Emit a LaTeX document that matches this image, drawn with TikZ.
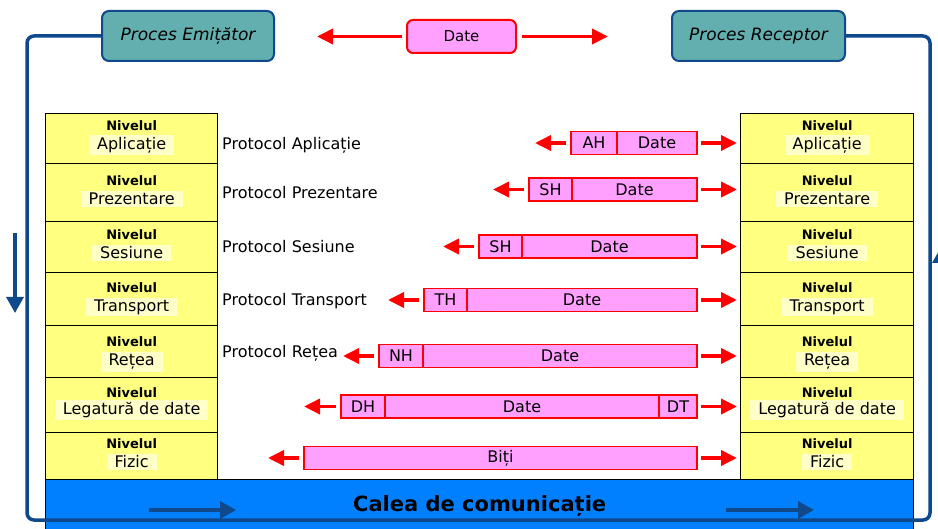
\documentclass[tikz,border=0pt]{standalone}
\usepackage{fontspec}
\setmainfont{DejaVu Sans}
\usetikzlibrary{arrows.meta,positioning}
\definecolor{procteal}{RGB}{99,175,175}
\definecolor{loopblue}{RGB}{16,72,140}
\definecolor{pktpink}{RGB}{255,160,255}
\definecolor{layeryellow}{RGB}{255,255,128}
\definecolor{hlyellow}{RGB}{255,255,200}
\definecolor{barblue}{RGB}{0,128,255}
\begin{document}
\begin{tikzpicture}[x=1pt,y=-1pt,
  proc/.style={draw=loopblue,line width=2pt,fill=procteal,rounded corners=7pt,
    minimum width=172pt,minimum height=50pt,font=\fontsize{17}{20}\selectfont\itshape},
  datebox/.style={draw=red,line width=2pt,fill=pktpink,rounded corners=6pt,
    minimum width=109pt,minimum height=33pt,font=\fontsize{15}{18}\selectfont},
  layer/.style={draw=black,line width=1.3pt,fill=layeryellow,minimum width=172pt,inner sep=0pt},
  nivtxt/.style={font=\fontsize{13}{15}\selectfont\bfseries,inner sep=1pt},
  hl/.style={fill=hlyellow,inner xsep=8pt,inner ysep=2pt,font=\fontsize{16}{18}\selectfont},
  prot/.style={anchor=west,inner sep=0pt,font=\fontsize{16}{18}\selectfont},
  cell/.style={draw=red,line width=1.6pt,fill=pktpink,minimum height=23pt,inner sep=0pt,
    outer sep=0pt,anchor=west,font=\fontsize{16}{18}\selectfont},
  redarr/.style={red,line width=3.6pt,-{Triangle[length=16pt,width=15pt]}},
  bluearr/.style={loopblue,line width=3.2pt,-{Triangle[length=16pt,width=17pt]}},
  loopline/.style={loopblue,line width=3.5pt,rounded corners=7pt}]
\clip (0,0) rectangle (938,529);

% procese si date
\node[proc] (pe) at (188,36) {Proces Emițător};
\node[proc,minimum width=173pt] (pr) at (758.5,36) {Proces Receptor};
\node[datebox] (dt) at (461.5,36.5) {Date};
\coordinate (dl) at (317,36.5);
\coordinate (dr) at (608,36.5);
\draw[redarr,shorten <=4pt] (dt.west) -- (dl);
\draw[redarr,shorten <=5pt] (dt.east) -- (dr);

% stivele de niveluri
\foreach \i/\yt/\hh/\ya/\yb/\lbl in {1/113/50/13/32/Aplicație,2/163/58/18/36/Prezentare,
    3/221/51/14/32/Sesiune,4/272/53/16/35/Transport,5/325/52/17/37/Rețea,
    6/377/55/16/33/Legatură de date,7/432/47/12/30/Fizic}{
  \node[layer,minimum height=\hh pt,anchor=north west] (L\i) at (45,\yt) {};
  \node[nivtxt] (Ln\i) at ([yshift=-\ya pt]L\i.north) {Nivelul};
  \node[hl] (Lt\i) at ([yshift=-\yb pt]L\i.north) {\lbl};
  \node[layer,minimum height=\hh pt,anchor=north west,minimum width=173pt] (R\i) at (740,\yt) {};
  \node[nivtxt] (Rn\i) at ([yshift=-\ya pt]R\i.north) {Nivelul};
  \node[hl] (Rt\i) at ([yshift=-\yb pt]R\i.north) {\lbl};
}

% calea de comunicatie
\node[draw=black,line width=1.3pt,fill=barblue,anchor=north west,minimum width=868pt,
  minimum height=52pt,font=\fontsize{21}{24}\selectfont\bfseries] (bar) at (45,479) {Calea de comunicație};
\coordinate (ba1) at (149,510);
\coordinate (ba2) at (236,510);
\coordinate (bb1) at (726,510);
\coordinate (bb2) at (814,510);
\draw[bluearr] (ba1) -- (ba2);
\draw[bluearr] (bb1) -- (bb2);

% bucla
\draw[loopline] (pe.west) -- (27,36) -- (27,520) -- (930,520) -- (930,36) -- (pr.east);
\coordinate (sd1) at (15,233);
\coordinate (sd2) at (15,313);
\draw[bluearr] (sd1) -- (sd2);
\coordinate (su1) at (941,330);
\coordinate (su2) at (941,247);
\draw[bluearr] (su1) -- (su2);

% protocoale
\node[prot] (p1) at (222,145) {Protocol Aplicație};
\node[prot] (p2) at (222,193) {Protocol Prezentare};
\node[prot] (p3) at (222,247) {Protocol Sesiune};
\node[prot] (p4) at (222,301) {Protocol Transport};
\node[prot] (p5) at (222,353) {Protocol Rețea};

% pachete
\foreach \i/\xa/\wa/\wb/\yy/\hd in {1/571/46/80/143/AH,2/529/43/125/189.5/SH,
    3/479/43/175/246.5/SH,4/424/43/230/300/TH,5/379/44/274/356/NH}{
  \node[cell,minimum width=\wa pt] (h\i) at (\xa,\yy) {\hd};
  \node[cell,minimum width=\wb pt] (d\i) at (h\i.east) {Date};
  \draw[redarr] ([xshift=-5pt]h\i.west) -- ++(-31,0);
  \draw[redarr,shorten <=4pt,shorten >=3pt] (d\i.east) -- (R\i.west |- d\i.east);
}
\node[cell,minimum width=44pt] (h6) at (341,406.5) {DH};
\node[cell,minimum width=274pt] (d6) at (h6.east) {Date};
\node[cell,minimum width=38pt] (t6) at (d6.east) {DT};
\draw[redarr] ([xshift=-5pt]h6.west) -- ++(-32,0);
\draw[redarr,shorten <=4pt,shorten >=3pt] (t6.east) -- (R6.west |- t6.east);
\node[cell,minimum width=393pt] (b7) at (304,458) {Biți};
\draw[redarr] ([xshift=-5pt]b7.west) -- ++(-31,0);
\draw[redarr,shorten <=4pt,shorten >=3pt] (b7.east) -- (R7.west |- b7.east);
\end{tikzpicture}
\end{document}
